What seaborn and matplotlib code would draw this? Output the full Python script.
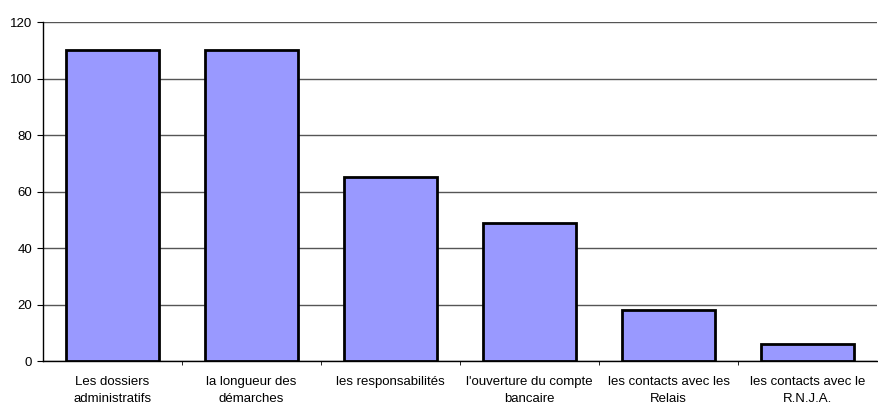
import numpy as np
import pandas as pd
import seaborn as sns
import matplotlib.pyplot as plt
from matplotlib.ticker import FixedLocator

categories = ["Les dossiers\nadministratifs", "la longueur des\ndémarches", "les responsabilités",
              "l'ouverture du compte\nbancaire", "les contacts avec les\nRelais", "les contacts avec le\nR.N.J.A."]
values = [110, 110, 65, 49, 18, 6]

sns.set_style("white")
plt.rcParams['font.family'] = ['Liberation Sans', 'DejaVu Sans']

df = pd.DataFrame({"cat": categories, "val": values})

fig = plt.figure(figsize=(8.79, 4.04), dpi=100)
ax = fig.add_axes([0.049, 0.106, 0.949, 0.8395])
sns.barplot(data=df, x="cat", y="val", color="#9999FF", saturation=1, width=0.67,
            edgecolor="black", linewidth=2, ax=ax, zorder=3)

ax.set_ylim(0, 120)
ax.set_xlim(-0.5, len(categories) - 0.5)
ax.set_yticks(np.arange(0, 121, 20))
ax.yaxis.grid(True, color="#555555", linewidth=1, zorder=0)
ax.set_axisbelow(True)
for s in ["top", "right"]:
    ax.spines[s].set_visible(False)
ax.spines["left"].set_color("black")
ax.spines["bottom"].set_color("black")
ax.spines["left"].set_linewidth(1)
ax.spines["bottom"].set_linewidth(1)

ax.set_xlabel("")
ax.set_ylabel("")
ax.tick_params(axis="x", which="major", length=0, labelsize=9.5, pad=11, labelcolor="black")
for lbl in ax.get_xticklabels():
    lbl.set_linespacing(1.55)
ax.tick_params(axis="y", which="major", length=4, labelsize=9.5, pad=4, left=True,
               direction="out", color="black", labelcolor="black")
ax.xaxis.set_minor_locator(FixedLocator(np.arange(0.5, len(categories) - 0.5, 1)))
ax.tick_params(axis="x", which="minor", length=3, bottom=True, direction="out", color="black")

fig.savefig("out.png", dpi=100)
